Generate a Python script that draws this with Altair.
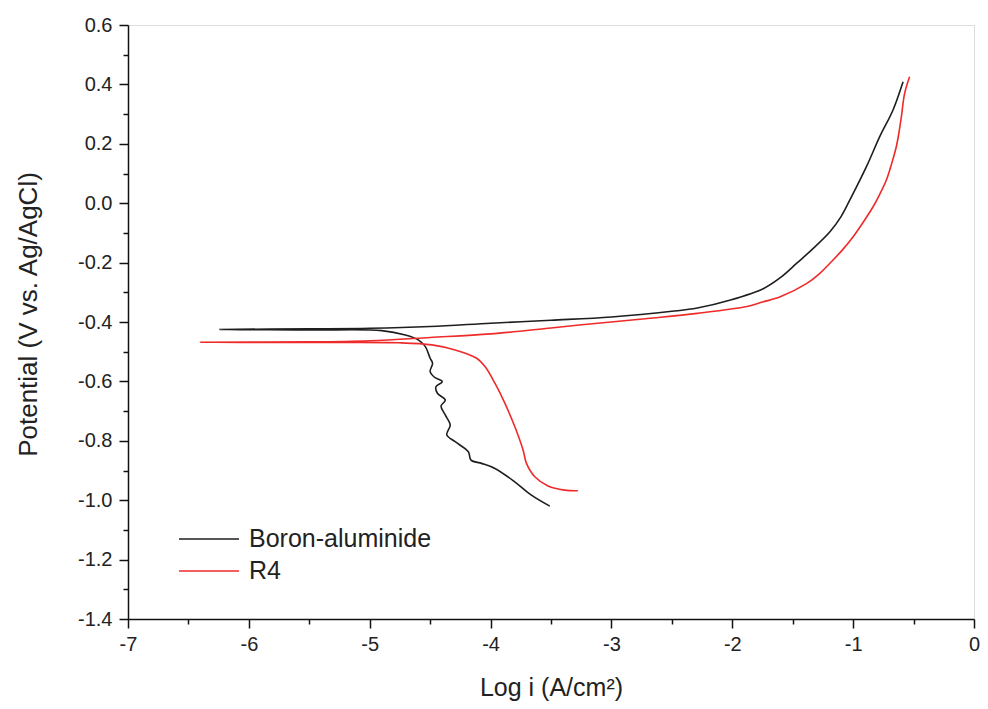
import altair as alt
import pandas as pd

# ---- data ----
series_names = ["Boron-aluminide", "R4"]

# Boron-aluminide: cathodic branch (bottom -> Ecorr), then anodic branch
ba_logi = [-3.51, -3.662, -3.80, -3.964, -4.074, -4.162, -4.184, -4.293, -4.362, -4.334,
           -4.375, -4.41, -4.375, -4.44, -4.452, -4.40, -4.464, -4.50, -4.48, -4.50,
           -4.54, -4.595, -4.705, -4.90, -5.5, -6.24,
           -5.5, -5.0, -4.5, -4.0, -3.5, -3.0, -2.5, -2.29, -2.015, -1.74, -1.6,
           -1.466, -1.33, -1.192, -1.1, -1.027, -0.89, -0.78, -0.67, -0.587]
ba_pot = [-1.02, -0.983, -0.938, -0.893, -0.876, -0.865, -0.837, -0.803, -0.780, -0.747,
          -0.713, -0.683, -0.663, -0.640, -0.618, -0.601, -0.586, -0.567, -0.539, -0.522,
          -0.483, -0.461, -0.444, -0.429, -0.427, -0.425,
          -0.423, -0.421, -0.415, -0.404, -0.394, -0.383, -0.364, -0.353, -0.326, -0.287, -0.250,
          -0.202, -0.152, -0.096, -0.045, 0.011, 0.123, 0.224, 0.314, 0.409]

# R4: cathodic branch (bottom -> Ecorr), then anodic branch
r4_logi = [-3.278, -3.387, -3.525, -3.634, -3.703, -3.731, -3.80, -3.881, -3.964, -4.046,
           -4.115, -4.293, -4.486, -4.76, -5.5, -6.40,
           -5.5, -5.0, -4.5, -4.0, -3.5, -3.113, -2.7, -2.29, -1.878, -1.75, -1.603,
           -1.383, -1.28, -1.192, -1.09, -1.0, -0.91, -0.835, -0.78, -0.725, -0.68,
           -0.643, -0.62, -0.601, -0.574, -0.533]
r4_pot = [-0.968, -0.966, -0.952, -0.921, -0.876, -0.831, -0.752, -0.674, -0.606, -0.550,
          -0.522, -0.494, -0.477, -0.470, -0.469, -0.468,
          -0.467, -0.463, -0.452, -0.440, -0.420, -0.404, -0.388, -0.371, -0.348, -0.333, -0.315,
          -0.270, -0.238, -0.202, -0.158, -0.113, -0.060, -0.012, 0.030, 0.078, 0.135,
          0.190, 0.240, 0.291, 0.370, 0.426]

x_ticks = [round(-7 + 0.5 * i, 1) for i in range(15)]
y_ticks = [round(-1.4 + 0.1 * i, 1) for i in range(21)]

rows = []
for name, xs, ys in [(series_names[0], ba_logi, ba_pot), (series_names[1], r4_logi, r4_pot)]:
    for k, (a, b) in enumerate(zip(xs, ys)):
        rows.append({"logi": a, "pot": b, "series": name, "order": k})
df = pd.DataFrame(rows)

FONT = "Liberation Sans"
MINUS = "\u2212"

x_major = "datum.value == round(datum.value)"
y_major = "abs(round(datum.value * 10)) % 2 == 0"

x_axis = alt.Axis(
    values=x_ticks,
    labelExpr=f"{x_major} ? replace(format(datum.value, 'd'), '{MINUS}', '-') : ''",
    tickSize={"condition": {"test": x_major, "value": 9}, "value": 5},
    tickColor="#111", tickWidth=1.5,
    domainColor="#111", domainWidth=1.5,
    labelFont=FONT, labelFontSize=20, labelColor="#222",
    labelPadding=6, labelFlush=False, labelOverlap=False,
    title="Log i (A/cm²)", titleFont=FONT, titleFontSize=25,
    titleFontWeight="normal", titleColor="#222", titlePadding=21,
    grid=False,
)
y_axis = alt.Axis(
    values=y_ticks,
    labelExpr=f"{y_major} ? replace(format(datum.value, '.1f'), '{MINUS}', '-') : ''",
    tickSize={"condition": {"test": y_major, "value": 9}, "value": 5},
    tickColor="#111", tickWidth=1.5,
    domainColor="#111", domainWidth=1.5,
    labelFont=FONT, labelFontSize=20, labelColor="#222",
    labelPadding=7, labelOverlap=False,
    title="Potential (V vs. Ag/AgCl)", titleFont=FONT, titleFontSize=26,
    titleFontWeight="normal", titleColor="#222", titlePadding=36, titleY=289,
    grid=False,
)

chart = (
    alt.Chart(df)
    .mark_line(strokeWidth=1.6, interpolate="catmull-rom")
    .encode(
        x=alt.X("logi:Q", scale=alt.Scale(domain=[-7, 0], nice=False, zero=False), axis=x_axis),
        y=alt.Y("pot:Q", scale=alt.Scale(domain=[-1.4, 0.6], nice=False, zero=False), axis=y_axis),
        color=alt.Color(
            "series:N",
            scale=alt.Scale(domain=series_names, range=["#1e1e1e", "#ee2a2a"]),
            legend=alt.Legend(
                title=None, orient="none", legendX=50, legendY=498,
                symbolType="stroke", symbolSize=3600, symbolStrokeWidth=1.6,
                clipHeight=32, rowPadding=0, labelLimit=0,
                labelFont=FONT, labelFontSize=25, labelColor="#222", labelOffset=9,
            ),
        ),
        order="order:Q",
    )
    .properties(
        width=846, height=594,
        autosize=alt.AutoSizeParams(type="none"),
        padding={"left": 120, "top": 17, "right": 6, "bottom": 85},
    )
    .configure_view(stroke=None)
    .configure(background="white")
)

chart.save("out.html", embed_options={"renderer": "svg", "actions": False})
